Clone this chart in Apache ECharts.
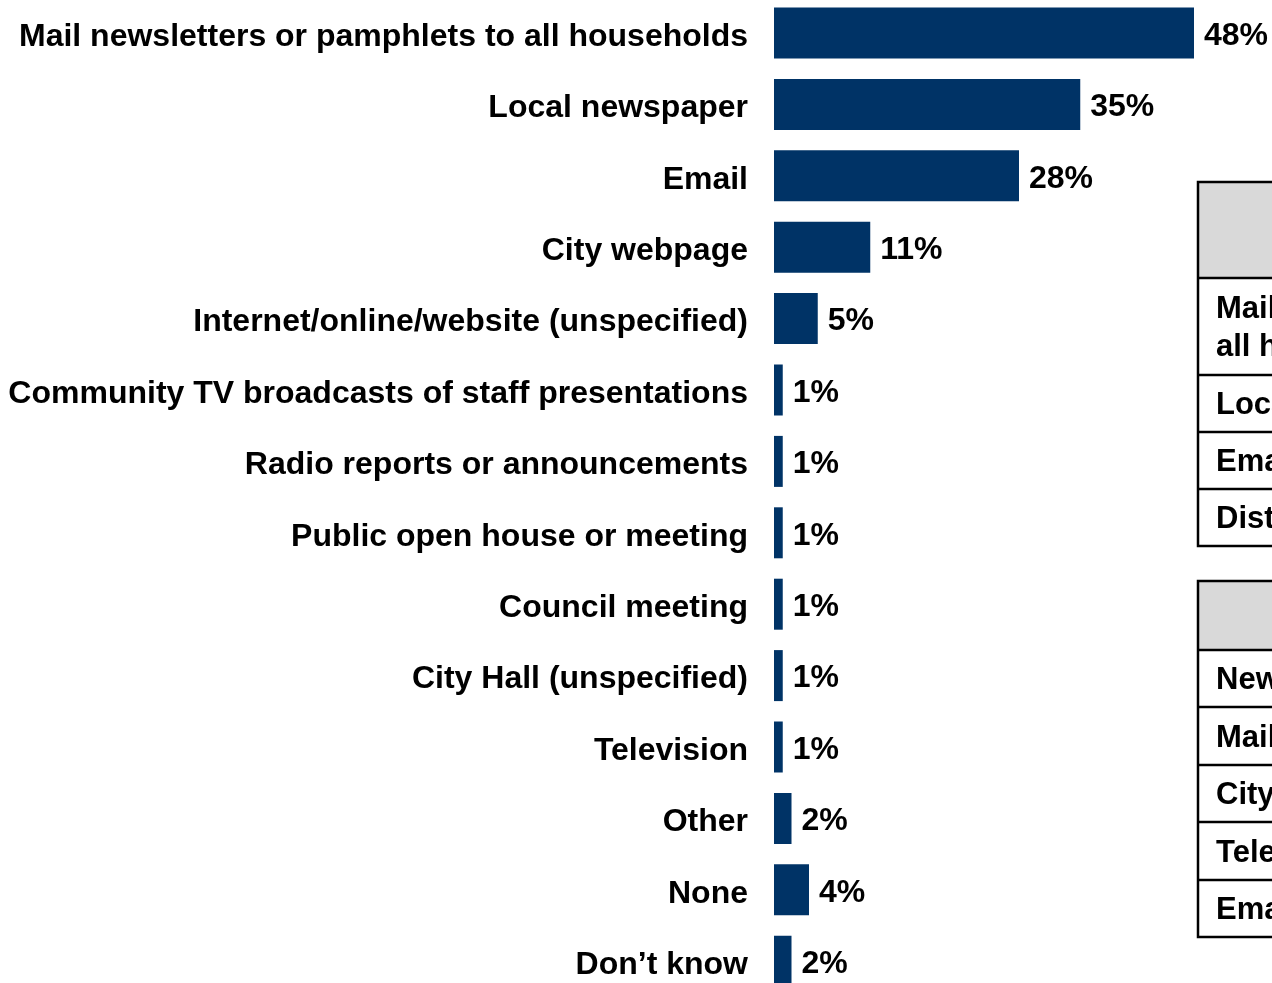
<!DOCTYPE html>
<html>
<head>
<meta charset="utf-8">
<script src="https://cdn.jsdelivr.net/npm/echarts@6/dist/echarts.min.js"></script>
<style>
html,body{margin:0;padding:0;background:#fff;}
#chart{width:1272px;height:983px;}
</style>
</head>
<body>
<div id="chart"></div>
<script>
const categories = [
  "Mail newsletters or pamphlets to all households",
  "Local newspaper",
  "Email",
  "City webpage",
  "Internet/online/website (unspecified)",
  "Community TV broadcasts of staff presentations",
  "Radio reports or announcements",
  "Public open house or meeting",
  "Council meeting",
  "City Hall (unspecified)",
  "Television",
  "Other",
  "None",
  "Don\u2019t know"
];
const values = [48, 35, 28, 11, 5, 1, 1, 1, 1, 1, 1, 2, 4, 2];

const table1Rows = [
  ["Mail newsletters or pamphlets to", "all households"],
  ["Local newspaper"],
  ["Email"],
  ["District newsletter"]
];
const table2Rows = [
  ["Newspaper"],
  ["Mail"],
  ["City webpage"],
  ["Television"],
  ["Email"]
];

const FONT = "'Liberation Sans', Arial, sans-serif";
const chart = echarts.init(document.getElementById('chart'), null, {renderer: 'canvas'});

function buildTable(x, top, headerBottom, rowLines, rows) {
  const els = [];
  const bottom = rowLines[rowLines.length - 1];
  els.push({
    type: 'rect', shape: {x: x, y: top, width: 600, height: headerBottom - top},
    style: {fill: '#D9D9D9'}, z: 10
  });
  els.push({
    type: 'rect', shape: {x: x, y: top, width: 600, height: bottom - top},
    style: {fill: 'none', stroke: '#000', lineWidth: 2.5}, z: 12
  });
  let prev = headerBottom;
  els.push({type: 'line', shape: {x1: x, y1: headerBottom, x2: x + 600, y2: headerBottom},
    style: {stroke: '#000', lineWidth: 2.5}, z: 12});
  rows.forEach((r, i) => {
    const yb = rowLines[i];
    if (i < rows.length - 1) {
      els.push({type: 'line', shape: {x1: x, y1: yb, x2: x + 600, y2: yb},
        style: {stroke: '#000', lineWidth: 2.5}, z: 12});
    }
    const mid = (prev + yb) / 2 + 2;
    const lh = 38;
    r.forEach((line, j) => {
      els.push({
        type: 'text', z: 13,
        style: {
          text: line, x: x + 18, y: mid + (j - (r.length - 1) / 2) * lh,
          fill: '#000', font: 'bold 31px ' + FONT, textVerticalAlign: 'middle', verticalAlign: 'middle'
        }
      });
    });
    prev = yb;
  });
  return els;
}

const graphics = []
  .concat(buildTable(1198, 182, 278, [375, 432, 489, 546], table1Rows))
  .concat(buildTable(1198, 581, 650, [707, 765, 822, 880, 937], table2Rows));

const option = {
  animation: false,
  backgroundColor: '#fff',
  grid: {left: 774, top: -2.7, width: 420, height: 999.6, containLabel: false, outerBoundsMode: 'none'},
  xAxis: {type: 'value', min: 0, max: 48, show: false},
  yAxis: {
    type: 'category', data: categories, inverse: true,
    axisLine: {show: false}, axisTick: {show: false}, splitLine: {show: false},
    axisLabel: {
      margin: 26, color: '#000', fontSize: 32, fontWeight: 'bold', fontFamily: FONT,
      verticalAlign: 'top', lineHeight: 8
    }
  },
  series: [{
    type: 'bar', data: values, barWidth: 51,
    itemStyle: {color: '#003366'},
    label: {
      show: true, position: 'right', distance: 10, offset: [0, 3],
      formatter: '{c}%', color: '#000', fontSize: 32, fontWeight: 'bold', fontFamily: FONT
    }
  }],
  graphic: graphics
};
chart.setOption(option);
</script>
</body>
</html>
